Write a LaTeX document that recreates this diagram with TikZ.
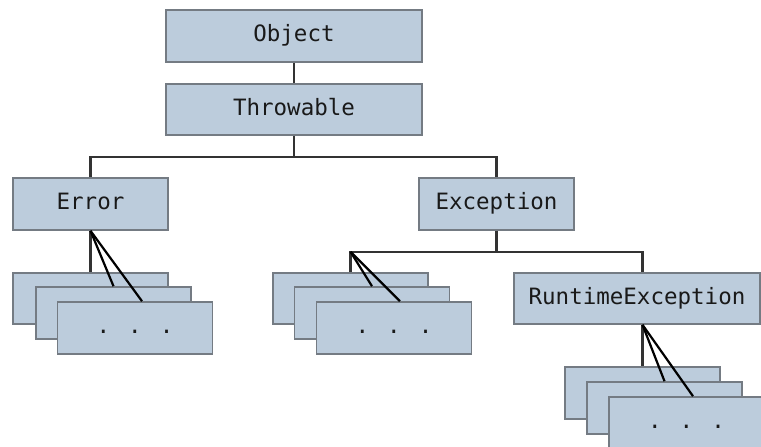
\documentclass[tikz,border=0pt]{standalone}
\usepackage{fontspec}
\newfontfamily\boxfont{DejaVu Sans Mono}
\usetikzlibrary{calc}
\definecolor{boxfill}{HTML}{BCCCDC}
\definecolor{boxline}{HTML}{747B83}
\begin{document}
\begin{tikzpicture}[x=1pt,y=-1pt,
  cls/.style={draw=boxline, line width=1.6pt, fill=boxfill, rectangle,
    minimum width=155pt, minimum height=52pt, inner sep=0pt,
    font=\boxfont\fontsize{22.5}{24}\selectfont, text=black!90,
    text height=16pt, text depth=5pt},
  link/.style={draw=black!80, line width=2.6pt},
  fan/.style={draw=black, line width=2.2pt}]
\useasboundingbox (0,0) rectangle (761,447);
% main classes
\node[cls, minimum width=256pt] (obj) at (294,36) {Object};
\node[cls, minimum width=256pt, minimum height=51pt] (thr) at (294,109.5) {Throwable};
\node[cls] (err) at (90.5,204) {Error};
\node[cls] (exc) at (496.5,204) {Exception};
\node[cls, minimum width=246pt, minimum height=51pt] (rte) at (637,298.5) {RuntimeException};
% stacks
\node[cls, minimum height=51pt] (a1) at (90.5,298.5) {};
\node[cls] (a2) at (113.5,313) {};
\node[cls] (a3) at (135,328) {. . .};
\node[cls, minimum height=51pt] (b1) at (350.5,298.5) {};
\node[cls] (b2) at (372,313) {};
\node[cls] (b3) at (394,328) {. . .};
\node[cls] (c1) at (642.5,393) {};
\node[cls] (c2) at (664.5,408) {};
\node[cls] (c3) at (686.5,423) {. . .};
% tree connectors
\draw[link] (obj.south) -- (thr.north);
\coordinate (j1) at ($(thr.south)+(0,21)$);
\draw[link] (thr.south) -- (j1);
\draw[link] (err.north) |- (j1) -| (exc.north);
\coordinate (j2) at ($(exc.south)+(0,21)$);
\draw[link] (exc.south) -- (j2);
\coordinate (j2l) at (j2 -| b1.north);
\coordinate (rtop) at (rte.north -| c1.north);
\draw[link] (b1.north) -- (j2l) -- (j2) -| (rtop);
% fans
\draw[link] (err.south) -- (a1.north);
\draw[fan] (err.south) -- (a2.north);
\draw[fan] (err.south) -- ($(a3.north)+(7,0)$);
\draw[fan] (j2l) -- (b2.north);
\draw[fan] (j2l) -- ($(b3.north)+(6,0)$);
\coordinate (rbot) at (rte.south -| c1.north);
\draw[link] (rbot) -- (c1.north);
\draw[fan] (rbot) -- (c2.north);
\draw[fan] (rbot) -- ($(c3.north)+(6.5,0)$);
\end{tikzpicture}
\end{document}
